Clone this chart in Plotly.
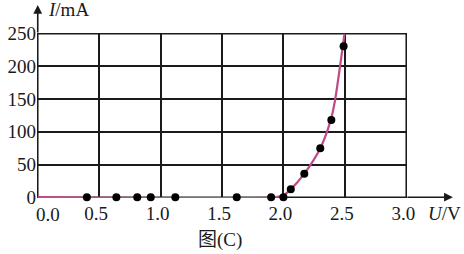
import plotly.graph_objects as go

# measured points
U_pts = [0.40, 0.64, 0.81, 0.92, 1.12, 1.62, 1.90, 2.00, 2.06, 2.17, 2.30, 2.39, 2.49]
I_pts = [0, 0, 0, 0, 0, 0, 0, 0, 12, 36, 75, 118, 231]

# fitted curve
U_curve = [0.0, 1.93, 2.00, 2.06, 2.17, 2.30, 2.385, 2.42, 2.46, 2.497]
I_curve = [0, 0, 3, 12, 36, 75, 118, 148, 199, 250]

x_ticks = [0.0, 0.5, 1.0, 1.5, 2.0, 2.5, 3.0]
x_ticktext = ["0.0", "0.5", "1.0", "1.5", "2.0", "2.5", "3.0"]
y_ticks = [0, 50, 100, 150, 200, 250]
y_ticktext = ["0", "50", "100", "150", "200", "250"]

FONT = "Liberation Serif"
FS = 19
INK = "#1a1a1a"
PINK = "#bf4c86"

fig = go.Figure()
fig.add_trace(go.Scatter(
    x=U_curve, y=I_curve, mode="lines",
    line=dict(color=PINK, width=2.2, shape="spline", smoothing=0.7),
    cliponaxis=False, hoverinfo="skip"))
fig.add_trace(go.Scatter(
    x=U_pts, y=I_pts, mode="markers",
    marker=dict(color="black", size=8),
    cliponaxis=False))

fig.update_layout(
    width=464, height=254,
    margin=dict(l=37, r=57, t=33, b=56),
    paper_bgcolor="white", plot_bgcolor="white",
    showlegend=False,
    font=dict(family=FONT, size=FS, color=INK),
    xaxis=dict(range=[-0.006, 3.006], tickvals=x_ticks,
               ticktext=[""] + x_ticktext[1:],
               showgrid=True, gridcolor=INK, gridwidth=1.6,
               zeroline=False, showline=False, ticks="",
               ticklabelshift=-3, ticklabelstandoff=2, automargin=False,
               tickfont=dict(family=FONT, size=FS, color=INK)),
    yaxis=dict(range=[-1.2, 251.2], tickvals=y_ticks, ticktext=y_ticktext,
               showgrid=True, gridcolor=INK, gridwidth=1.6,
               zeroline=False, showline=False, ticks="",
               ticklabelstandoff=0, automargin=False,
               tickfont=dict(family=FONT, size=FS, color=INK)),
)

# frame of the grid (below the traces)
fig.add_shape(type="rect", xref="x", yref="y",
              x0=x_ticks[0], x1=x_ticks[-1], y0=y_ticks[0], y1=y_ticks[-1],
              line=dict(color=INK, width=1.6), layer="below")

# axis arrows
fig.add_annotation(xref="paper", yref="paper", x=1.124, y=0.005, ax=-47, ay=0,
                   showarrow=True, arrowhead=2, arrowsize=1.1, arrowwidth=1.6,
                   arrowcolor=INK, text="")
fig.add_annotation(xref="paper", yref="paper", x=0.002, y=1.17, ax=0, ay=29,
                   showarrow=True, arrowhead=2, arrowsize=1.1, arrowwidth=1.6,
                   arrowcolor=INK, text="")

# 0.0 label (offset to the right of the origin)
fig.add_annotation(x=0, y=0, xref="x", yref="y", text=x_ticktext[0],
                   showarrow=False, xanchor="center", yanchor="top",
                   xshift=10, yshift=-5, font=dict(family=FONT, size=FS, color=INK))

# axis titles
fig.add_annotation(xref="paper", yref="paper", x=0, y=1.14, xshift=9,
                   text="<i>I</i>/mA", showarrow=False, xanchor="left", yanchor="middle",
                   font=dict(family=FONT, size=FS, color=INK))
fig.add_annotation(xref="paper", yref="paper", x=1.0, y=0, xshift=19, yshift=-15,
                   text="<i>U</i>/V", showarrow=False, xanchor="left", yanchor="middle",
                   font=dict(family=FONT, size=FS, color=INK))

# caption
fig.add_annotation(xref="paper", yref="paper", x=(220 - 37) / 370, y=0, yshift=-42,
                   text="图(C)", showarrow=False, xanchor="center", yanchor="middle",
                   font=dict(family="Liberation Serif, Noto Sans CJK SC", size=FS, color=INK))

fig.write_html("out.html")
